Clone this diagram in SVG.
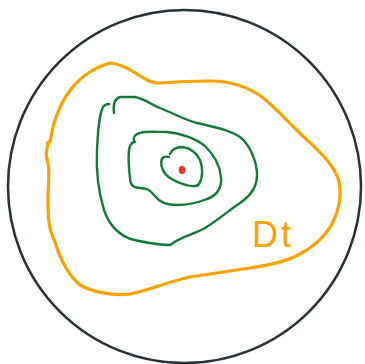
<svg xmlns="http://www.w3.org/2000/svg" width="365" height="364" viewBox="0 0 365 364">
<style>
.o{fill:none;stroke:#f9a200;stroke-width:3.2;stroke-linecap:round;stroke-linejoin:round}
.g{fill:none;stroke:#157a38;stroke-width:2.4;stroke-linecap:round;stroke-linejoin:round}
</style>
<rect width="365" height="364" fill="#fff"/>
<g id="boundary"><circle cx="184.5" cy="186.5" r="176.5" fill="none" stroke="#263238" stroke-width="2.5"/></g>
<g id="region-Dt">
<path class="o" d="M110,63 C120,64 128,68 137,74 C145,79 150,83 160,83 C172,82 190,81 210,81 C230,81 248,87 262,97 C278,110 290,124 305,138 C320,152 332,163 338,178 C342,192 340,208 332,224 C324,238 312,248 298,255 C285,262 270,265 250,268 C230,271 210,274 190,277 C170,281 150,290 130,294 C112,296 92,292 80,285 C68,275 60,258 55,242 C48,228 48,215 48,200 C48,185 50,172 48,163 C46,157 46,150 48,145 C47,143 48,141 50,142 C52,128 56,115 62,103 C70,88 85,70 110,63 Z"/>
<text x="252" y="247" font-family="Liberation Sans, Arial, sans-serif" font-size="36" letter-spacing="3" fill="#f9a200">Dt</text>
</g>
<g id="level-outer"><path class="g" d="M114,113 C113,105 114,99 120,97 L135,97 C145,99 152,105 160,108 C175,114 185,120 197,123 C215,127 230,130 240,137 C250,145 256,160 257,172 C258,185 252,195 240,203 C228,211 218,220 205,228 C195,234 182,236 170,245 C160,245 140,242 128,238 C115,232 108,222 104,210 C98,190 96,170 97,150 C98,130 99,115 103,107 C105,104 107,104 109,104"/></g>
<g id="level-middle"><path class="g" d="M134,141 C133,137 135,134 140,133 C145,131 155,132 167,132 C180,133 195,138 205,146 C214,155 220,165 221,177 C222,188 218,195 207,199 C197,203 188,205 177,205 C167,205 160,203 155,196 C150,190 147,188 140,188 C133,188 130,185 130,178 C129,170 128,160 129,150 C130,144 132,142 135,142"/></g>
<g id="level-inner"><path class="g" d="M170,154 C172,149 177,147 183,147 C190,148 197,153 200,160 C203,168 203,178 199,184 C196,188 188,186 180,183 C173,180 166,177 163,170 C160,164 161,158 164,157 C166,156 168,157 169,157"/></g>
<g id="point"><ellipse cx="182" cy="170" rx="3.3" ry="4" fill="#e8332a"/></g>
</svg>
